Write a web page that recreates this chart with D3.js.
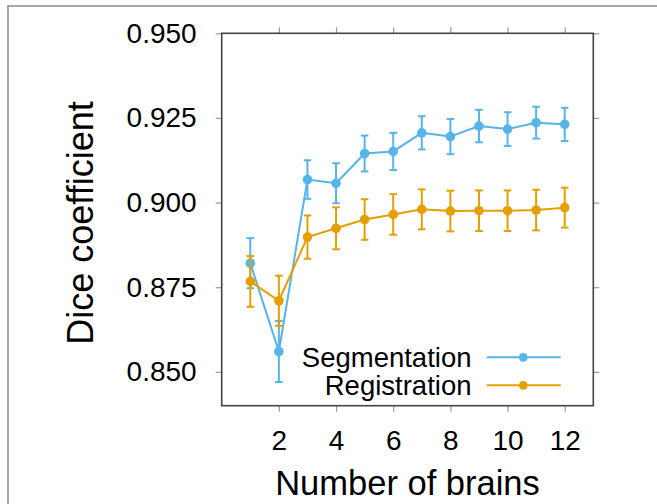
<!DOCTYPE html>
<html>
<head>
<meta charset="utf-8">
<script src="https://cdn.jsdelivr.net/npm/d3@7"></script>
<style>
  body { margin: 0; background: #fff; }
  text { font-family: "Liberation Sans", Arial, sans-serif; fill: #000; }
</style>
</head>
<body>
<svg width="657" height="504"></svg>
<script>
var brains = [1, 2, 3, 4, 5, 6, 7, 8, 9, 10, 11, 12];

// mean dice and half-width of the error bar
var segMean = [0.8821, 0.8560, 0.9068, 0.9057, 0.9145, 0.9151, 0.9206, 0.9195, 0.9226, 0.9217, 0.9236, 0.9231];
var segErr  = [0.0074, 0.0090, 0.0057, 0.0059, 0.0053, 0.0055, 0.0049, 0.0052, 0.0048, 0.0050, 0.0047, 0.0049];
var regMean = [0.8767, 0.8710, 0.8898, 0.8924, 0.8950, 0.8965, 0.8980, 0.8975, 0.8976, 0.8976, 0.8978, 0.8985];
var regErr  = [0.0075, 0.0074, 0.0064, 0.0062, 0.0060, 0.0060, 0.0059, 0.0060, 0.0060, 0.0060, 0.0060, 0.0059];

var seriesNames = ['Segmentation', 'Registration'];
var xTicks = [2, 4, 6, 8, 10, 12];
var yTicks = [0.850, 0.875, 0.900, 0.925, 0.950];

var blue = '#56B4E9';
var orange = '#E69F00';

var svg = d3.select('svg');

// outer frame of the figure
svg.append('path')
  .attr('d', 'M8,504 L8,6 L657,6')
  .style('fill', 'none')
  .style('stroke', '#8a8a8a')
  .style('stroke-width', 1.5);

var x = d3.scaleLinear().domain([0, 13]).range([221.7, 593.3]);
var y = d3.scaleLinear().domain([0.84, 0.95]).range([405.7, 33.3]);

var tickStyle = function(g) {
  g.select('.domain').remove();
  g.selectAll('line').style('stroke', '#999').style('stroke-width', 1.2);
  g.selectAll('text')
    .style('font-size', '28px')
    .style('font-family', '"Liberation Sans", Arial, sans-serif')
    .style('fill', '#000');
};

svg.append('g')
  .attr('transform', 'translate(0,405.7)')
  .call(d3.axisBottom(x).tickValues(xTicks).tickSize(6).tickPadding(18))
  .call(tickStyle);
svg.append('g')
  .attr('transform', 'translate(0,33.3)')
  .call(d3.axisTop(x).tickValues(xTicks).tickSize(6).tickFormat(''))
  .call(tickStyle);
svg.append('g')
  .attr('transform', 'translate(221.7,0)')
  .call(d3.axisLeft(y).tickValues(yTicks).tickSize(6).tickPadding(19).tickFormat(d3.format('.3f')))
  .call(tickStyle);
svg.append('g')
  .attr('transform', 'translate(593.3,0)')
  .call(d3.axisRight(y).tickValues(yTicks).tickSize(6).tickFormat(''))
  .call(tickStyle);

// plot border
svg.append('rect')
  .attr('x', x(0))
  .attr('y', y(0.95))
  .attr('width', x(13) - x(0))
  .attr('height', y(0.84) - y(0.95))
  .style('fill', 'none')
  .style('stroke', '#444')
  .style('stroke-width', 1.6);

var drawSeries = function(means, errs, color) {
  var pts = brains.map(function(b, i) { return {b: b, m: means[i], e: errs[i]}; });
  var g = svg.append('g');

  g.selectAll('line.bar').data(pts).enter().append('line')
    .attr('x1', function(d) { return x(d.b); })
    .attr('x2', function(d) { return x(d.b); })
    .attr('y1', function(d) { return y(d.m - d.e); })
    .attr('y2', function(d) { return y(d.m + d.e); })
    .style('stroke', color).style('stroke-width', 2);
  g.selectAll('line.top').data(pts).enter().append('line')
    .attr('x1', function(d) { return x(d.b) - 3.8; })
    .attr('x2', function(d) { return x(d.b) + 3.8; })
    .attr('y1', function(d) { return y(d.m + d.e); })
    .attr('y2', function(d) { return y(d.m + d.e); })
    .style('stroke', color).style('stroke-width', 2);
  g.selectAll('line.bot').data(pts).enter().append('line')
    .attr('x1', function(d) { return x(d.b) - 3.8; })
    .attr('x2', function(d) { return x(d.b) + 3.8; })
    .attr('y1', function(d) { return y(d.m - d.e); })
    .attr('y2', function(d) { return y(d.m - d.e); })
    .style('stroke', color).style('stroke-width', 2);

  g.append('path')
    .datum(pts)
    .attr('d', d3.line().x(function(d) { return x(d.b); }).y(function(d) { return y(d.m); }))
    .style('fill', 'none').style('stroke', color).style('stroke-width', 2);

  g.selectAll('circle').data(pts).enter().append('circle')
    .attr('cx', function(d) { return x(d.b); })
    .attr('cy', function(d) { return y(d.m); })
    .attr('r', 4.8)
    .style('fill', color);
};

drawSeries(segMean, segErr, blue);
drawSeries(regMean, regErr, orange);

// legend
var legend = svg.append('g');
[blue, orange].forEach(function(c, i) {
  var ly = 357.3 + i * 28;
  legend.append('text')
    .attr('x', 471.5).attr('y', ly + 9.6)
    .attr('text-anchor', 'end')
    .style('font-size', '27.5px')
    .text(seriesNames[i]);
  legend.append('line')
    .attr('x1', 486.7).attr('x2', 560.7)
    .attr('y1', ly).attr('y2', ly)
    .style('stroke', c).style('stroke-width', 2);
  legend.append('circle')
    .attr('cx', 523.3).attr('cy', ly).attr('r', 4.4)
    .style('fill', c);
});

// axis titles
svg.append('text')
  .attr('transform', 'translate(93.3,223) rotate(-90)')
  .attr('text-anchor', 'middle')
  .style('font-size', '36px')
  .text('Dice coefficient');
svg.append('text')
  .attr('x', 407.5).attr('y', 495)
  .attr('text-anchor', 'middle')
  .style('font-size', '34.5px')
  .text('Number of brains');
</script>
</body>
</html>
